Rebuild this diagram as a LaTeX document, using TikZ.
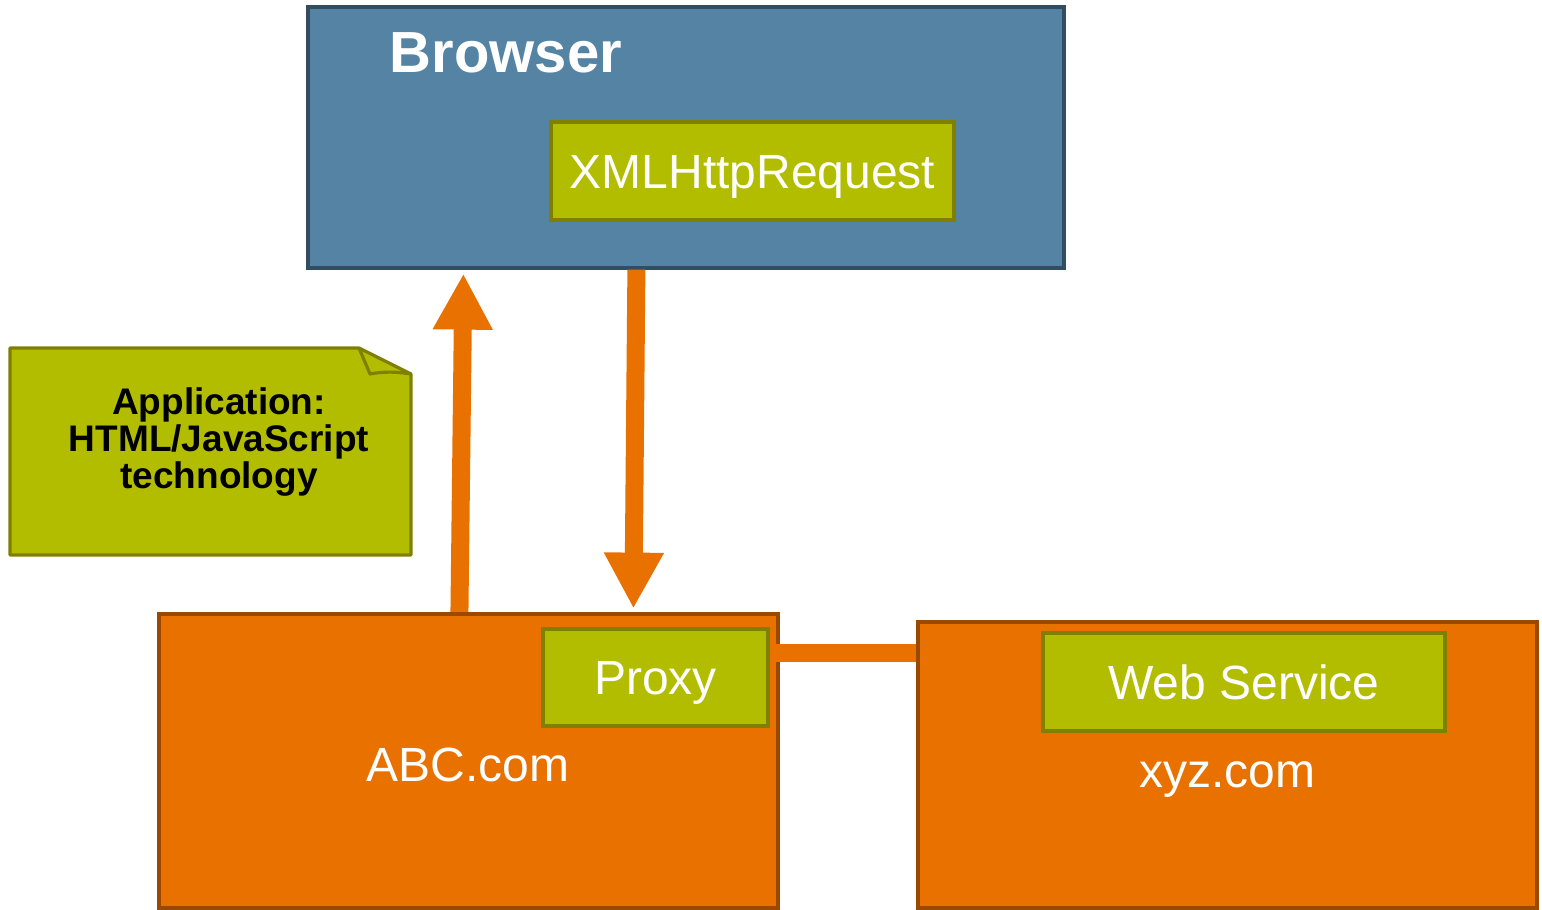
\documentclass[tikz,border=0pt]{standalone}
\usepackage{fontspec}
\setmainfont{Liberation Sans}
\usetikzlibrary{arrows.meta,calc}

\definecolor{browserfill}{RGB}{84,131,163}
\definecolor{browserline}{RGB}{50,76,98}
\definecolor{olivefill}{RGB}{179,189,0}
\definecolor{oliveline}{RGB}{128,128,0}
\definecolor{siteorange}{RGB}{232,113,0}
\definecolor{siteline}{RGB}{153,74,0}

\tikzset{
  % one unit = one pixel, y grows downward
  hostbox/.style={rectangle, draw=siteline, fill=siteorange, line width=1.6pt, inner sep=0pt},
  compbox/.style={rectangle, draw=oliveline, fill=olivefill, line width=1.6pt, inner sep=0pt,
    text=white, font=\fontsize{24}{28}\selectfont, text height=17.2pt, text depth=0pt},
  sitelabel/.style={text=white, font=\fontsize{24}{28}\selectfont, anchor=base, inner sep=0pt},
  flowarrow/.style={draw=siteorange, line width=9pt, -{Triangle[width=28pt,length=28pt]}},
  flowlink/.style={draw=siteorange, line width=9pt},
}

\begin{document}
\begin{tikzpicture}[x=0.5pt,y=-0.5pt]
\useasboundingbox (0,0) rectangle (1542,910);

% browser
\node[rectangle, draw=browserline, fill=browserfill, line width=1.6pt,
      minimum width=378pt, minimum height=130.5pt, inner sep=0pt] (Browser) at (686,137.5) {};
\node[text=white, font=\bfseries\fontsize{29}{34}\selectfont, anchor=base, inner sep=0pt]
      (BrowserTitle) at (506,72) {Browser};
\node[compbox, minimum width=201.5pt, minimum height=49pt] (XHR) at (752.5,171) {XMLHttpRequest};

% application note with folded corner
\fill[olivefill] (10,348) -- (360,348) -- (411,374) -- (411,555) -- (10,555) -- cycle;
\draw[oliveline, line width=1.6pt, line join=round]
  (10,348) -- (359,348) -- (411,374) -- (411,555) -- (10,555) -- cycle;
\draw[oliveline, line width=1.6pt, line join=round]
  (359,348) -- (370,374) .. controls (385,371) and (398,372) .. (411,374);
\node[align=center, font=\bfseries\fontsize{18.5}{18.5}\selectfont, inner sep=0pt]
  (Note) at (219,442) {Application:\\HTML/JavaScript\\technology};

% request / response arrows
\draw[flowarrow] ($(Browser.south west)+(330,0)$) -- ($(Browser.south west)+(327,339)$);
\draw[flowarrow] ($(Browser.south west)+(153,346)$) -- ($(Browser.south west)+(157,4)$);

% hosts
\node[hostbox, minimum width=309.5pt, minimum height=147pt] (ABC) at (468.5,761) {};
\node[compbox, minimum width=112.5pt, minimum height=48.5pt] (Proxy) at (655.5,677.5) {Proxy};
\node[sitelabel] (ABClabel) at (468,781) {ABC.com};

\node[hostbox, minimum width=309.5pt, minimum height=143pt] (XYZ) at (1227.5,765) {};
\node[compbox, minimum width=201pt, minimum height=49pt] (WS) at (1244,682) {Web Service};
\node[sitelabel] (XYZlabel) at (1227,787) {xyz.com};

% proxy to web service link
\draw[flowlink] ($(Proxy.north east)+(0,26)$) coordinate (linkstart) -- (linkstart -| XYZ.west);
\end{tikzpicture}
\end{document}
